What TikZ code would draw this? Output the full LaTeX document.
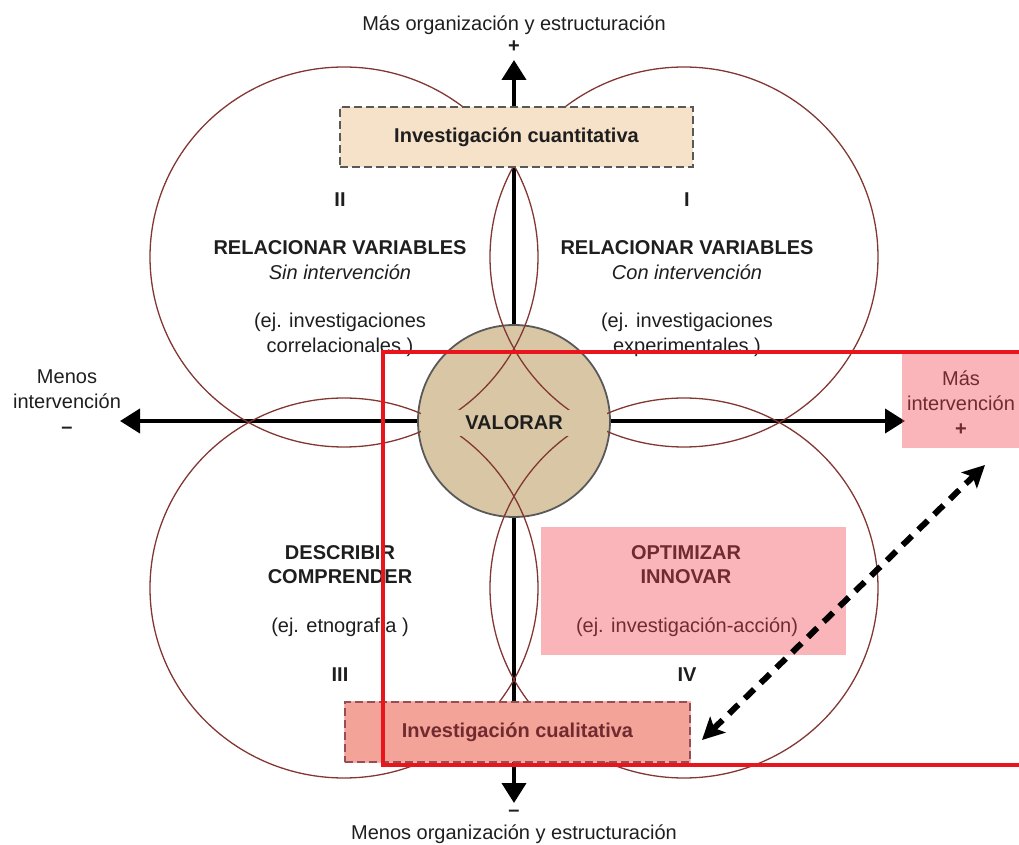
\documentclass[tikz,border=0pt]{standalone}
\usepackage{fontspec}
\setmainfont{Liberation Sans}
\usepackage{xcolor}
\usetikzlibrary{arrows.meta}
\usetikzlibrary{shapes.geometric}

\definecolor{ringred}{RGB}{130,55,50}
\definecolor{valtan}{RGB}{216,198,165}
\definecolor{boxbeige}{RGB}{246,226,200}
\definecolor{hlpink}{RGB}{243,64,77}
\definecolor{markred}{RGB}{232,22,28}
\definecolor{txtgray}{RGB}{30,30,30}

\tikzset{
  ring/.style={ellipse, draw=ringred, line width=0.65pt, minimum width=194pt, minimum height=190pt, inner sep=0pt},
  axis/.style={line width=2pt, -{Triangle[length=10pt,width=12pt]}},
  methodbox/.style={draw=black!65, dash pattern=on 4pt off 2pt, line width=0.9pt, fill=boxbeige, minimum height=30pt, font=\bfseries},
  quad/.style={align=center},
  highlight/.style={fill=hlpink, fill opacity=0.39},
}

\begin{document}
\begin{tikzpicture}[x=0.5pt, y=-0.5pt, text=txtgray, font=\fontsize{10}{12.5}\selectfont]
\useasboundingbox (0,0) rectangle (1019,845);
\clip (0,0) rectangle (1019,845);

% centre and axes
\node[circle, draw=black!65, line width=0.9pt, fill=valtan, minimum size=96pt, inner sep=0pt] (val) at (514,421) {};
\coordinate (tipN) at (514,60);
\coordinate (tipS) at (514,803);
\coordinate (tipW) at (120,421);
\coordinate (tipE) at (905,421);
\draw[axis] (val.north) -- (tipN);
\draw[axis] (val.south) -- (tipS);
\draw[axis] (val.west) -- (tipW);
\draw[axis] (val.east) -- (tipE);

% the four circles
\node[ring] (cI) at (684,257) {};
\node[ring] (cII) at (344,257) {};
\node[ring] (cIII) at (344,588) {};
\node[ring] (cIV) at (684,588) {};

\node[fill=valtan, minimum width=93pt, minimum height=13pt, inner sep=0pt, font=\bfseries] (vallabel) at (514,423) {VALORAR};

% boxes
\node[methodbox, minimum width=176.5pt] (quant) at (516.5,137) {Investigación cuantitativa};
\node[methodbox, minimum width=172.5pt] (qual) at (517.5,732) {Investigación cualitativa};

% axis labels
\node (orgtop) at (514,25) {Más organización y estructuración};
\node[font=\bfseries] (orgplus) at (514,47) {+};
\node[font=\bfseries] (orgminus) at (514,813) {–};
\node (orgbot) at (514,834) {Menos organización y estructuración};
\node[quad] (lessint) at (67,402) {Menos\\intervención\\\textbf{–}};
\node[quad] (moreint) at (961,403) {Más\\intervención\\\textbf{+}};

% quadrants
\node[font=\bfseries] (numI) at (687,200) {I};
\node[quad] (relI) at (687,260.5) {\textbf{RELACIONAR VARIABLES}\\\textit{Con intervención}};
\node[quad] (exI) at (687,335) {(ej. investigaciones\\experimentales )};

\node[font=\bfseries] (numII) at (340,200) {II};
\node[quad] (relII) at (340,260.5) {\textbf{RELACIONAR VARIABLES}\\\textit{Sin intervención}};
\node[quad] (exII) at (340,335) {(ej. investigaciones\\correlacionales )};

\node[quad, font=\bfseries] (descr) at (340,564.5) {DESCRIBIR\\COMPRENDER};
\node (exIII) at (340,627) {(ej. etnografía )};
\node[font=\bfseries] (numIII) at (340,675) {III};

\node[quad, font=\bfseries] (optim) at (686,565) {OPTIMIZAR\\INNOVAR};
\node (exIV) at (687,627) {(ej. investigación-acción)};
\node[font=\bfseries] (numIV) at (687,675) {IV};

% highlights
\fill[highlight] (541,527) rectangle (846,655);
\fill[highlight] (902,353) rectangle (1030,448);
\fill[highlight] (qual.south west) rectangle (qual.north east);
\draw[markred, line width=2.3pt] (383,352) rectangle (1040,765);

\coordinate (dashlo) at (702,740);
\coordinate (dashhi) at (985,465);
\draw[line width=3pt, dash pattern=on 6.5pt off 4.5pt, {Stealth[length=11pt,width=11pt,inset=2.5pt]}-{Stealth[length=11pt,width=11pt,inset=2.5pt]}] (dashlo) -- (dashhi);

\end{tikzpicture}
\end{document}
